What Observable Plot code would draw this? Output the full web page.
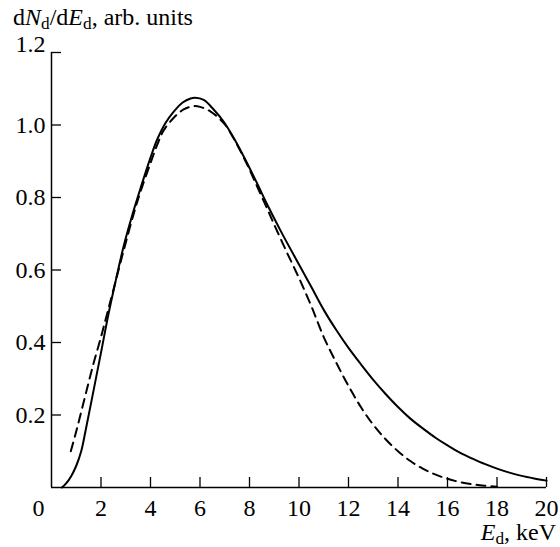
<!DOCTYPE html>
<html><head><meta charset="utf-8">
<script src="https://cdn.jsdelivr.net/npm/d3@7"></script>
<script src="https://cdn.jsdelivr.net/npm/@observablehq/plot@0.6"></script>
<style>
body{margin:0;background:#fff;}
#c{position:relative;width:560px;height:547px;font-family:"Liberation Serif","Times New Roman",serif;color:#000;}
.lbl{position:absolute;font-size:24px;white-space:nowrap;line-height:0.9;}
.lbl .s{font-size:0.72em;position:relative;top:0.26em;line-height:0;}
</style></head><body>
<div id="c"></div>
<script>
const solidE = [0.42,0.6,0.8,1.0,1.2,1.4,1.7,2.0,2.3,2.6,2.92,3.3,3.59,4.0,4.27,4.6,4.94,5.3,5.62,5.8,6.15,6.56,6.96,7.4,7.91,8.3,8.72,9.26,10.0,10.5,11.0,11.5,12.0,12.5,13.0,13.5,14.0,14.5,15.0,15.5,16.0,16.5,17.0,17.5,18.0,18.5,19.0,19.5,20.0];
const solidY = [0,0.012,0.032,0.06,0.1,0.165,0.268,0.372,0.478,0.572,0.667,0.76,0.824,0.91,0.96,1.005,1.037,1.062,1.073,1.075,1.069,1.042,1.009,0.96,0.894,0.84,0.78,0.708,0.615,0.553,0.49,0.435,0.385,0.34,0.297,0.258,0.222,0.19,0.163,0.138,0.116,0.096,0.08,0.065,0.052,0.041,0.032,0.025,0.019];
const dashE = [0.78,1.0,1.25,1.5,1.75,2.0,2.25,2.5,2.92,3.3,3.59,4.0,4.27,4.53,4.94,5.34,5.75,6.0,6.43,6.96,7.4,7.91,8.31,8.72,9.0,9.5,10.0,10.5,11.0,11.5,12.0,12.5,13.0,13.5,14.0,14.5,15.0,15.5,16.0,16.5,17.0,17.5,18.0];
const dashY = [0.10,0.155,0.222,0.29,0.355,0.415,0.48,0.545,0.655,0.75,0.815,0.895,0.945,0.985,1.02,1.043,1.052,1.05,1.037,1.005,0.958,0.89,0.83,0.768,0.725,0.65,0.578,0.50,0.415,0.345,0.28,0.222,0.173,0.133,0.1,0.073,0.052,0.036,0.024,0.015,0.009,0.005,0.002];
const xTicks = [0,2,4,6,8,10,12,14,16,18,20];
const yTicks = [0.2,0.4,0.6,0.8,1.0,1.2];
const yTitleHTML = 'd<i>N</i><span class="s">d</span>/d<i>E</i><span class="s">d</span>, arb. units';
const xTitleHTML = '<i>E</i><span class="s">d</span>, keV';

const solid = solidE.map((e, i) => ({e, v: solidY[i]}));
const dashed = dashE.map((e, i) => ({e, v: dashY[i]}));
const yMax = yTicks[yTicks.length - 1];

const plot = Plot.plot({
  width: 560, height: 547,
  marginTop: 52, marginBottom: 60, marginLeft: 51, marginRight: 14,
  style: {fontFamily: '"Liberation Serif", "Times New Roman", serif', fontSize: "24px", color: "#000", background: "#fff", overflow: "visible"},
  x: {domain: [xTicks[0], xTicks[xTicks.length - 1]]},
  y: {domain: [0, yMax]},
  marks: [
    Plot.ruleX([0], {stroke: "#000", strokeWidth: 1.5}),
    Plot.ruleY([0], {stroke: "#000", strokeWidth: 1.5}),
    Plot.axisX(xTicks.filter(d => d > 0), {tickSize: -10, tickPadding: 21, strokeWidth: 1.3, label: null, tickFormat: d => String(d)}),
    Plot.axisX([0], {tickSize: 0, tickPadding: 11, dx: -13, label: null, tickFormat: d => String(d)}),
    Plot.axisY(yTicks, {tickSize: -10, tickPadding: 16, strokeWidth: 1.3, label: null, tickFormat: d => d === yMax ? "" : d.toFixed(1)}),
    Plot.axisY([yMax], {tickSize: 0, tickPadding: 6, dy: -8, label: null, tickFormat: d => d.toFixed(1)}),
    Plot.line(dashed, {x: "e", y: "v", curve: "catmull-rom", stroke: "#000", strokeWidth: 2, strokeDasharray: "9,6"}),
    Plot.line(solid, {x: "e", y: "v", curve: "catmull-rom", stroke: "#000", strokeWidth: 2})
  ]
});
const c = document.getElementById("c");
c.appendChild(plot);
plot.style.position = "absolute"; plot.style.left = "0"; plot.style.top = "0";
const t = document.createElement("div");
t.className = "lbl"; t.style.left = "13px"; t.style.top = "7px"; t.innerHTML = yTitleHTML;
c.appendChild(t);
const xl = document.createElement("div");
xl.className = "lbl"; xl.style.right = "4px"; xl.style.top = "522px"; xl.innerHTML = xTitleHTML;
c.appendChild(xl);
</script>
</body></html>
